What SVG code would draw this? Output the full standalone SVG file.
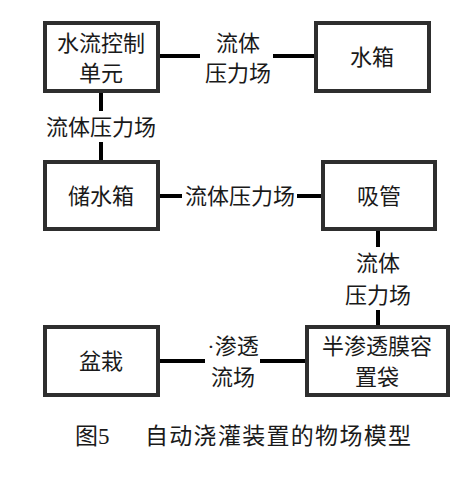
<svg xmlns="http://www.w3.org/2000/svg" width="475" height="489" viewBox="0 0 475 489">
<style>
.box{fill:#fff;stroke:#2e2e2e;stroke-width:4}
.ln{stroke:#000;stroke-width:4;fill:none}
text{font-family:"Liberation Serif","Noto Sans CJK SC",serif;font-size:22px;fill:#1a1a1a;text-anchor:middle;dominant-baseline:central}
.cap{text-anchor:start;font-size:23px}
</style>
<rect width="475" height="489" fill="#fff"/>
<g id="connectors">
<path class="ln" d="M158 56H200M273 56H316"/>
<path class="ln" d="M101 91V111M101 142V162"/>
<path class="ln" d="M158 196H182M297 196H323"/>
<path class="ln" d="M378 229V247M378 310V327"/>
<path class="ln" d="M158 361H205M260 361H307"/>
<text x="238" y="43">流体</text>
<text x="238" y="73">压力场</text>
<text x="101" y="127">流体压力场</text>
<text x="240" y="196">流体压力场</text>
<text x="378" y="263">流体</text>
<text x="378" y="295">压力场</text>
<text x="233" y="346">·渗透</text>
<text x="233" y="377">流场</text>
</g>
<g id="n1"><rect class="box" x="45" y="23" width="113" height="68"/><text x="101" y="43">水流控制</text><text x="101" y="73">单元</text></g>
<g id="n2"><rect class="box" x="316" y="23" width="113" height="68"/><text x="372" y="57">水箱</text></g>
<g id="n3"><rect class="box" x="45" y="162" width="113" height="67"/><text x="101" y="196">储水箱</text></g>
<g id="n4"><rect class="box" x="323" y="162" width="112" height="67"/><text x="379" y="196">吸管</text></g>
<g id="n5"><rect class="box" x="45" y="327" width="113" height="68"/><text x="101" y="361">盆栽</text></g>
<g id="n6"><rect class="box" x="307" y="327" width="141" height="68"/><text x="377" y="346">半渗透膜容</text><text x="377" y="377">置袋</text></g>
<text class="cap" x="75" y="436">图5</text>
<text class="cap" x="145" y="436" letter-spacing="1.3">自动浇灌装置的物场模型</text>
</svg>
